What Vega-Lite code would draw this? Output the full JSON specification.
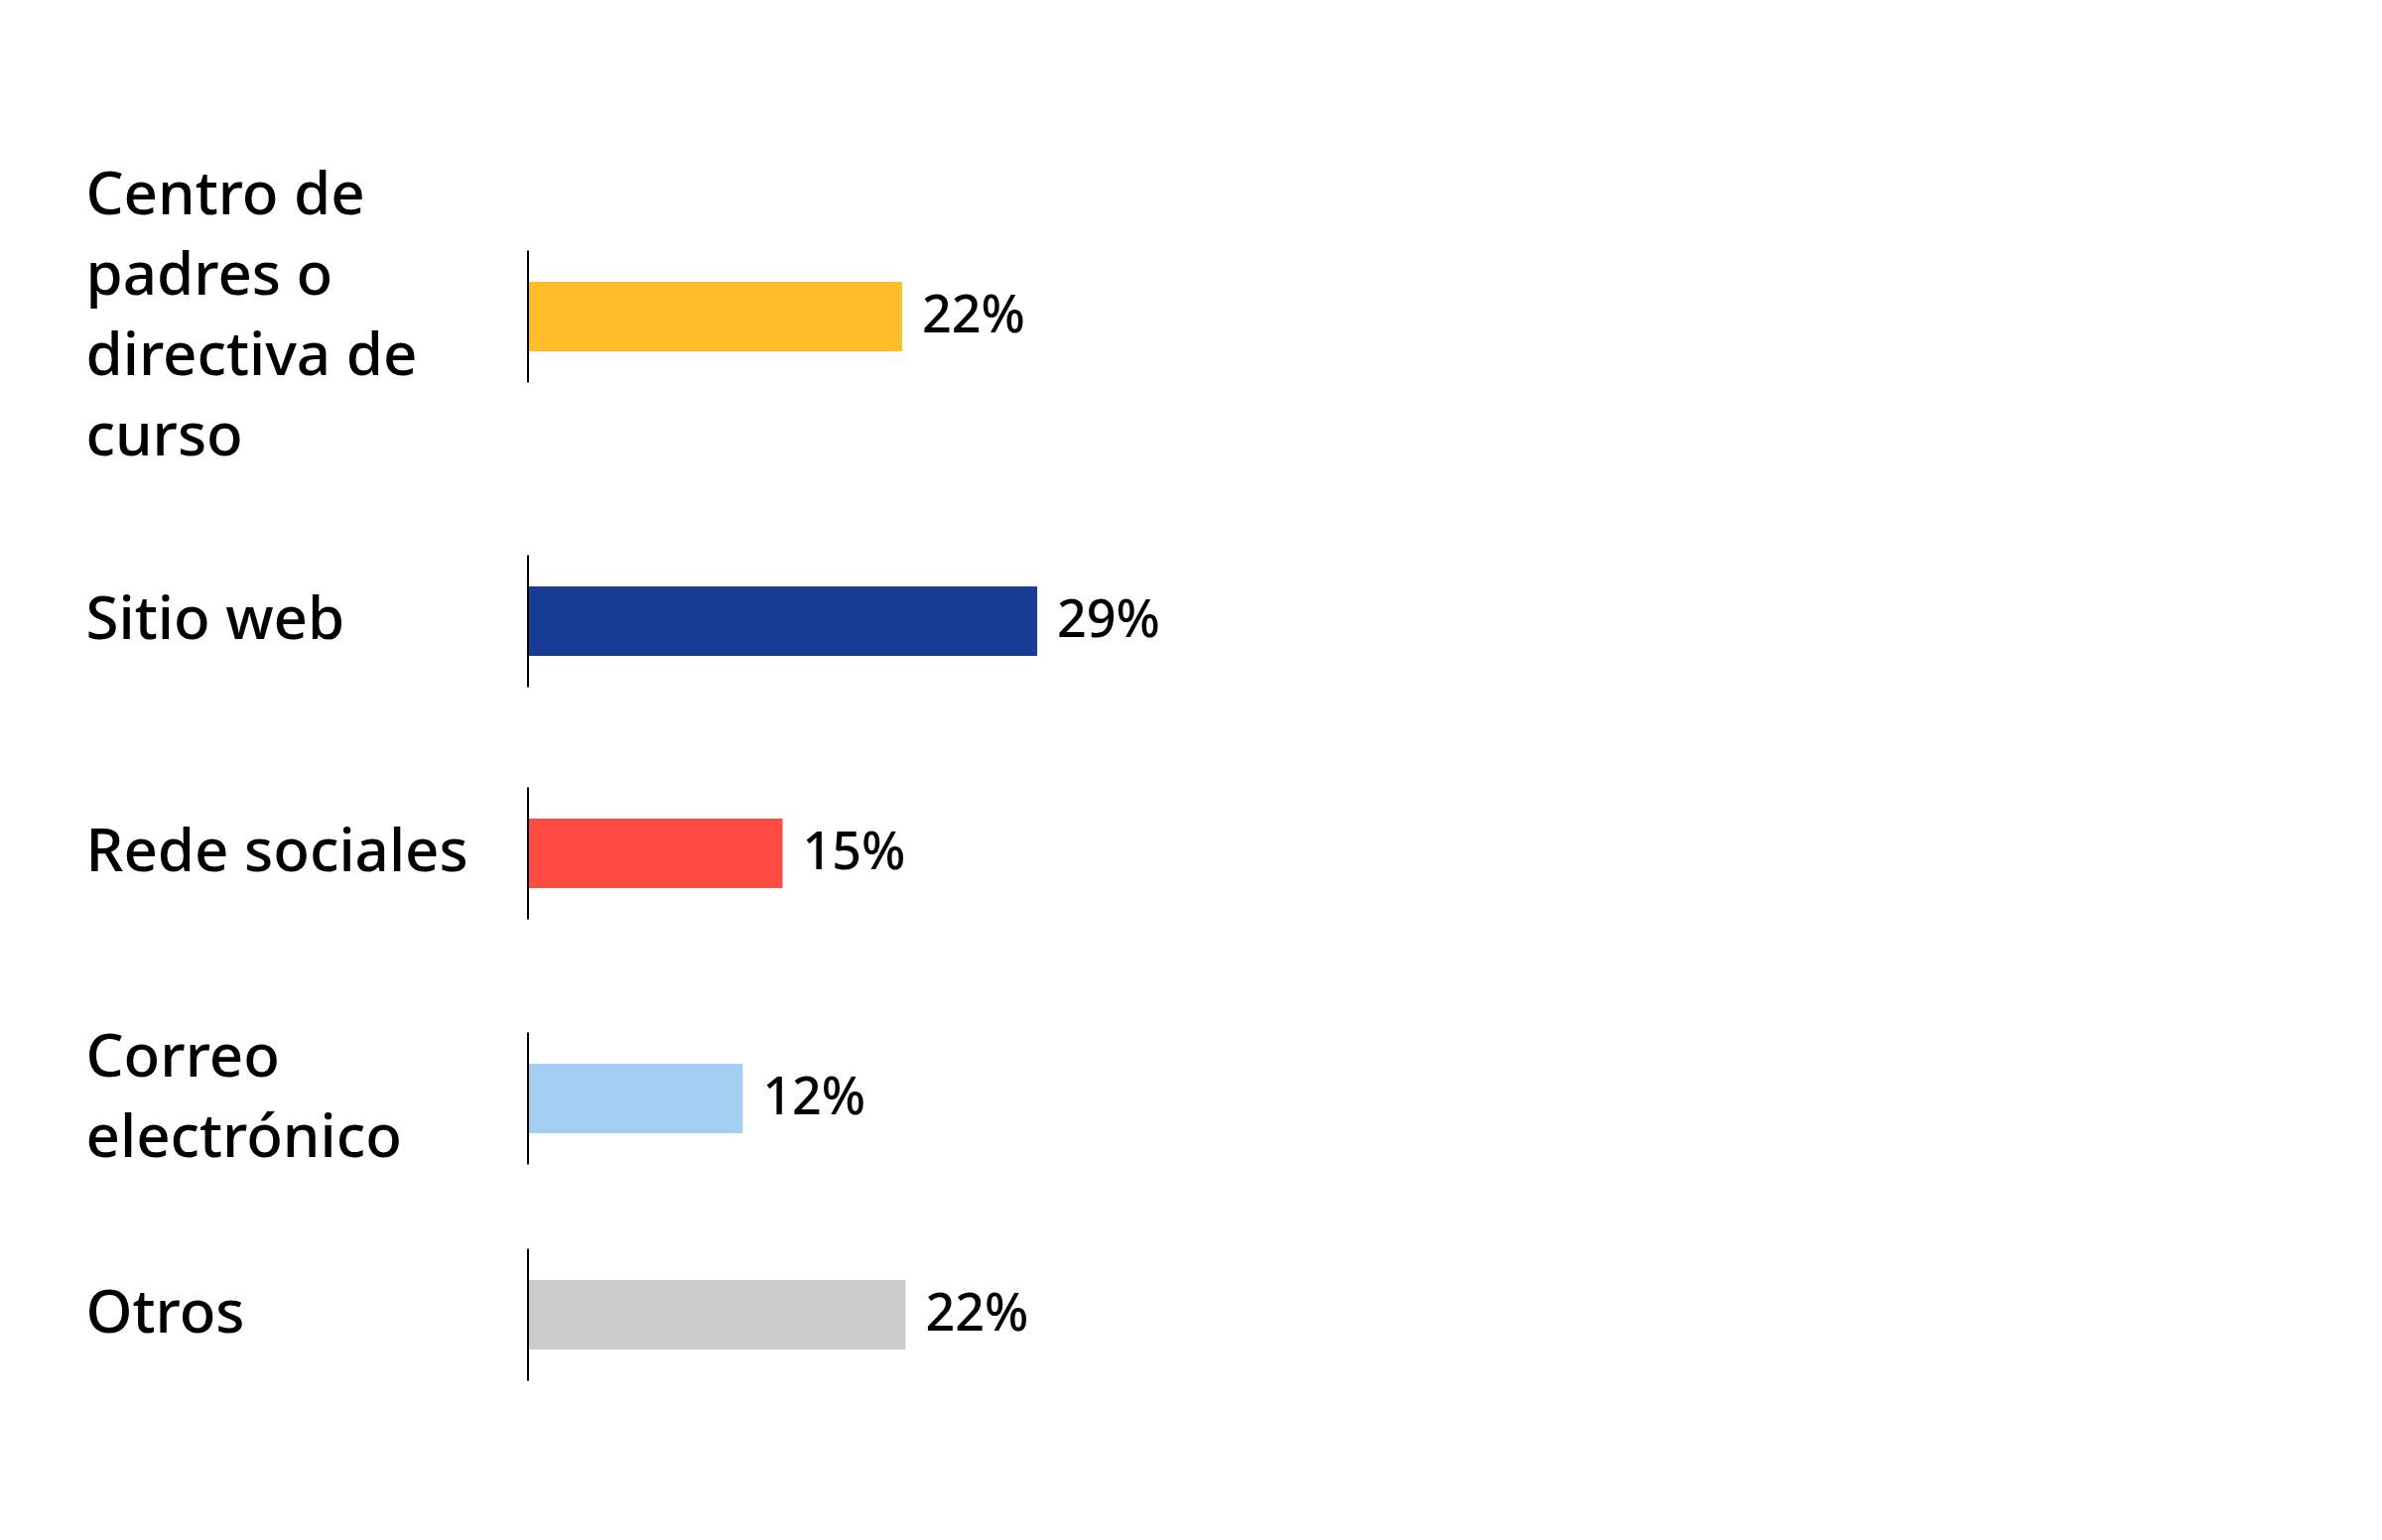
{
  "$schema": "https://vega.github.io/schema/vega-lite/v6.json",
  "background": "white",
  "padding": {"top": 149, "left": 86, "right": 5, "bottom": 5},
  "bounds": "flush",
  "spacing": 0,
  "data": {
    "values": [
      {"canal": "Centro de padres o directiva de curso", "valor": 0.216},
      {"canal": "Sitio web", "valor": 0.294},
      {"canal": "Rede sociales", "valor": 0.147},
      {"canal": "Correo electrónico", "valor": 0.124},
      {"canal": "Otros", "valor": 0.218}
    ]
  },
  "vconcat": [
    {
      "height": 340, "width": 1745,
      "transform": [{"filter": "datum.canal == 'Centro de padres o directiva de curso'"}],
      "encoding": {"y": {"field": "canal", "type": "nominal", "title": null, "axis": {"labelOffset": -121}}},
      "layer": [
        {"mark": {"type": "bar", "size": 70}, "encoding": {"x": {"field": "valor", "type": "quantitative", "scale": {"domain": [0, 1], "nice": false}, "axis": null}, "color": {"field": "canal", "type": "nominal", "legend": null, "scale": {"domain": ["Centro de padres o directiva de curso", "Sitio web", "Rede sociales", "Correo electrónico", "Otros"], "range": ["#FFBD29", "#163C96", "#FF4B42", "#A5CFF2", "#CCCCCC"]}}}},
        {"mark": {"type": "tick", "color": "#000000", "size": 133, "thickness": 2, "opacity": 1}, "encoding": {"x": {"datum": 0, "type": "quantitative"}}},
        {"mark": {"type": "text", "align": "left", "baseline": "middle", "dx": 20, "fontSize": 52, "fontWeight": 500, "font": "Noto Sans", "color": "#000000"}, "encoding": {"x": {"field": "valor", "type": "quantitative"}, "text": {"field": "valor", "type": "quantitative", "format": ".0%"}}}
      ]
    },
    {
      "height": 274, "width": 1745,
      "transform": [{"filter": "datum.canal == 'Sitio web'"}],
      "encoding": {"y": {"field": "canal", "type": "nominal", "title": null}},
      "layer": [
        {"mark": {"type": "bar", "size": 70}, "encoding": {"x": {"field": "valor", "type": "quantitative", "scale": {"domain": [0, 1], "nice": false}, "axis": null}, "color": {"field": "canal", "type": "nominal", "legend": null, "scale": {"domain": ["Centro de padres o directiva de curso", "Sitio web", "Rede sociales", "Correo electrónico", "Otros"], "range": ["#FFBD29", "#163C96", "#FF4B42", "#A5CFF2", "#CCCCCC"]}}}},
        {"mark": {"type": "tick", "color": "#000000", "size": 133, "thickness": 2, "opacity": 1}, "encoding": {"x": {"datum": 0, "type": "quantitative"}}},
        {"mark": {"type": "text", "align": "left", "baseline": "middle", "dx": 20, "fontSize": 52, "fontWeight": 500, "font": "Noto Sans", "color": "#000000"}, "encoding": {"x": {"field": "valor", "type": "quantitative"}, "text": {"field": "valor", "type": "quantitative", "format": ".0%"}}}
      ]
    },
    {
      "height": 194, "width": 1745,
      "transform": [{"filter": "datum.canal == 'Rede sociales'"}],
      "encoding": {"y": {"field": "canal", "type": "nominal", "title": null}},
      "layer": [
        {"mark": {"type": "bar", "size": 70}, "encoding": {"x": {"field": "valor", "type": "quantitative", "scale": {"domain": [0, 1], "nice": false}, "axis": null}, "color": {"field": "canal", "type": "nominal", "legend": null, "scale": {"domain": ["Centro de padres o directiva de curso", "Sitio web", "Rede sociales", "Correo electrónico", "Otros"], "range": ["#FFBD29", "#163C96", "#FF4B42", "#A5CFF2", "#CCCCCC"]}}}},
        {"mark": {"type": "tick", "color": "#000000", "size": 133, "thickness": 2, "opacity": 1}, "encoding": {"x": {"datum": 0, "type": "quantitative"}}},
        {"mark": {"type": "text", "align": "left", "baseline": "middle", "dx": 20, "fontSize": 52, "fontWeight": 500, "font": "Noto Sans", "color": "#000000"}, "encoding": {"x": {"field": "valor", "type": "quantitative"}, "text": {"field": "valor", "type": "quantitative", "format": ".0%"}}}
      ]
    },
    {
      "height": 300, "width": 1745,
      "transform": [{"filter": "datum.canal == 'Correo electrónico'"}],
      "encoding": {"y": {"field": "canal", "type": "nominal", "title": null, "axis": {"labelOffset": -40}}},
      "layer": [
        {"mark": {"type": "bar", "size": 70}, "encoding": {"x": {"field": "valor", "type": "quantitative", "scale": {"domain": [0, 1], "nice": false}, "axis": null}, "color": {"field": "canal", "type": "nominal", "legend": null, "scale": {"domain": ["Centro de padres o directiva de curso", "Sitio web", "Rede sociales", "Correo electrónico", "Otros"], "range": ["#FFBD29", "#163C96", "#FF4B42", "#A5CFF2", "#CCCCCC"]}}}},
        {"mark": {"type": "tick", "color": "#000000", "size": 133, "thickness": 2, "opacity": 1}, "encoding": {"x": {"datum": 0, "type": "quantitative"}}},
        {"mark": {"type": "text", "align": "left", "baseline": "middle", "dx": 20, "fontSize": 52, "fontWeight": 500, "font": "Noto Sans", "color": "#000000"}, "encoding": {"x": {"field": "valor", "type": "quantitative"}, "text": {"field": "valor", "type": "quantitative", "format": ".0%"}}}
      ]
    },
    {
      "height": 136, "width": 1745,
      "transform": [{"filter": "datum.canal == 'Otros'"}],
      "encoding": {"y": {"field": "canal", "type": "nominal", "title": null}},
      "layer": [
        {"mark": {"type": "bar", "size": 70}, "encoding": {"x": {"field": "valor", "type": "quantitative", "scale": {"domain": [0, 1], "nice": false}, "axis": null}, "color": {"field": "canal", "type": "nominal", "legend": null, "scale": {"domain": ["Centro de padres o directiva de curso", "Sitio web", "Rede sociales", "Correo electrónico", "Otros"], "range": ["#FFBD29", "#163C96", "#FF4B42", "#A5CFF2", "#CCCCCC"]}}}},
        {"mark": {"type": "tick", "color": "#000000", "size": 133, "thickness": 2, "opacity": 1}, "encoding": {"x": {"datum": 0, "type": "quantitative"}}},
        {"mark": {"type": "text", "align": "left", "baseline": "middle", "dx": 20, "fontSize": 52, "fontWeight": 500, "font": "Noto Sans", "color": "#000000"}, "encoding": {"x": {"field": "valor", "type": "quantitative"}, "text": {"field": "valor", "type": "quantitative", "format": ".0%"}}}
      ]
    }
  ],
  "config": {
    "view": {"stroke": null},
    "axisY": {
      "domain": false,
      "ticks": false,
      "tickSize": 0,
      "grid": false,
      "labelFont": "Noto Sans",
      "labelFontSize": 60,
      "labelFontWeight": 500,
      "labelColor": "#000000",
      "labelAlign": "left",
      "labelBaseline": "middle",
      "labelPadding": 446,
      "labelLineHeight": 81,
      "labelLimit": 800,
      "labelExpr": "datum.label == 'Centro de padres o directiva de curso' ? ['Centro de', 'padres o', 'directiva de', 'curso'] : datum.label == 'Correo electrónico' ? ['Correo', 'electrónico'] : datum.label"
    }
  }
}
